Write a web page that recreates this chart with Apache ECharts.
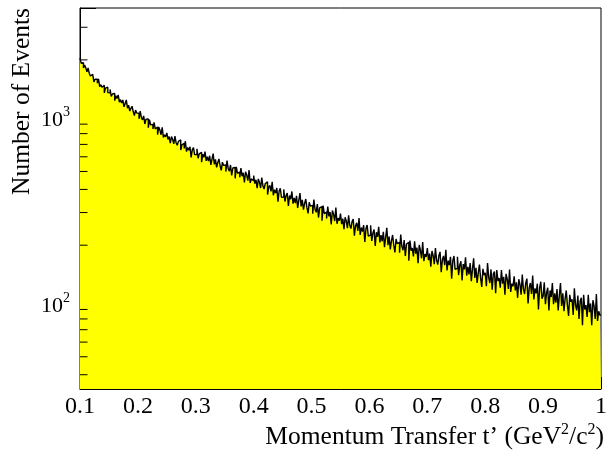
<!DOCTYPE html>
<html>
<head>
<meta charset="utf-8">
<script src="https://cdn.jsdelivr.net/npm/echarts@6/dist/echarts.min.js"></script>
<style>html,body{margin:0;padding:0;background:#fff}#c{width:610px;height:451px}</style>
</head>
<body>
<div id="c"></div>
<script>
// Histogram: lower edge of first bin, bin width, and counts per bin
const tMin = 0.1;
const binWidth = 0.002;
const counts = [
  // 0.10 - 0.15
  2049, 1919, 1932, 1806, 1876, 1811, 1724, 1809, 1694, 1638, 1671, 1672, 1522, 1573, 1574, 1498, 1578, 1433, 1470, 1424, 1459, 1327, 1408, 1425, 1331,
  // 0.15 - 0.20
  1328, 1385, 1269, 1309, 1319, 1205, 1281, 1239, 1295, 1184, 1220, 1169, 1217, 1116, 1164, 1216, 1098, 1140, 1059, 1096, 1124, 1049, 1002, 1072, 1035,
  // 0.20 - 0.25
  1028, 962, 1057, 979, 949, 997, 902, 958, 959, 861, 953, 892, 897, 848, 919, 848, 869, 791, 869, 836, 789, 865, 763, 789, 769,
  // 0.25 - 0.30
  807, 745, 771, 711, 772, 746, 705, 775, 715, 693, 727, 740, 652, 696, 709, 666, 728, 640, 673, 650, 680, 596, 656, 673, 616,
  // 0.30 - 0.35
  616, 662, 589, 622, 635, 561, 620, 596, 640, 570, 600, 569, 608, 543, 582, 624, 546, 581, 526, 559, 584, 536, 507, 561, 539,
  // 0.35 - 0.40
  542, 499, 572, 519, 502, 542, 476, 522, 526, 459, 530, 489, 496, 465, 521, 471, 492, 436, 498, 478, 446, 509, 434, 456, 445,
  // 0.40 - 0.45
  475, 430, 451, 406, 456, 437, 407, 463, 418, 402, 430, 440, 375, 410, 421, 390, 439, 372, 399, 382, 407, 343, 392, 406, 363,
  // 0.45 - 0.50
  364, 400, 344, 371, 382, 326, 371, 354, 390, 335, 360, 337, 369, 318, 350, 382, 324, 351, 311, 336, 355, 319, 297, 341, 325,
  // 0.50 - 0.55
  328, 296, 353, 313, 301, 333, 282, 318, 323, 271, 327, 296, 302, 279, 323, 286, 302, 259, 308, 294, 270, 319, 261, 280, 271,
  // 0.55 - 0.60
  296, 260, 278, 244, 283, 270, 247, 290, 256, 246, 268, 277, 225, 255, 264, 239, 280, 227, 249, 237, 257, 208, 246, 257, 224,
  // 0.60 - 0.65
  227, 256, 211, 233, 243, 198, 235, 222, 251, 207, 227, 210, 236, 195, 221, 248, 200, 223, 190, 211, 227, 200, 183, 216, 204,
  // 0.65 - 0.70
  207, 182, 228, 197, 188, 213, 175, 203, 207, 165, 212, 187, 193, 174, 210, 180, 194, 160, 201, 188, 170, 208, 164, 179, 173,
  // 0.70 - 0.75
  193, 166, 180, 153, 186, 176, 158, 193, 166, 157, 176, 184, 143, 167, 175, 156, 189, 146, 165, 156, 173, 132, 165, 175, 148,
  // 0.75 - 0.80
  150, 173, 138, 156, 164, 129, 158, 148, 172, 137, 153, 139, 160, 128, 149, 170, 133, 151, 125, 142, 157, 133, 119, 149, 138,
  // 0.80 - 0.85
  142, 120, 160, 134, 125, 148, 115, 140, 144, 110, 147, 128, 133, 118, 147, 124, 135, 108, 140, 131, 116, 148, 112, 124, 120,
  // 0.85 - 0.90
  136, 114, 126, 104, 131, 123, 108, 139, 116, 109, 125, 132, 97, 118, 125, 109, 137, 102, 117, 110, 124, 90, 118, 127, 103,
  // 0.90 - 0.95
  106, 126, 96, 111, 118, 89, 114, 105, 125, 96, 110, 98, 116, 89, 107, 125, 94, 110, 88, 103, 114, 95, 83, 108, 99,
  // 0.95 - 1.00
  102, 84, 117, 95, 89, 107, 80, 100, 104, 74, 108, 90, 95, 82, 108, 87, 97, 74, 101, 94, 80, 109, 78, 88, 84
];
const xRange = [0.1, 1.0];
const yRange = [33.5, 3811];
const yMinorTicks = [40, 50, 60, 70, 80, 90, 200, 300, 400, 500, 600, 700, 800, 900, 2000, 3000];

const FONT = 'Liberation Serif';

const stepData = counts.map((c, i) => [+(tMin + i * binWidth).toFixed(4), c]);
stepData.push([xRange[1], counts[counts.length - 1]]);

const chart = echarts.init(document.getElementById('c'), null, {renderer: 'canvas'});
chart.setOption({
  animation: false,
  backgroundColor: '#fff',
  grid: {left: 80, right: 6, top: 8, bottom: 62, show: true, borderColor: '#000', borderWidth: 1, backgroundColor: 'transparent'},
  xAxis: {
    type: 'value', min: xRange[0], max: xRange[1], interval: 0.1,
    axisLine: {show: true, onZero: false, lineStyle: {color: '#000', width: 1}},
    axisTick: {show: true, inside: true, length: 12, lineStyle: {color: '#000', width: 1}},
    minorTick: {show: true, splitNumber: 5, length: 6, lineStyle: {color: '#000', width: 1}},
    splitLine: {show: false},
    axisLabel: {color: '#000', fontFamily: FONT, fontSize: 24, margin: 6,
      formatter: v => String(+v.toFixed(1))}
  },
  yAxis: {
    type: 'log', logBase: 10, min: yRange[0], max: yRange[1],
    axisLine: {show: true, lineStyle: {color: '#000', width: 1}},
    axisTick: {show: true, inside: true, length: 16, lineStyle: {color: '#000', width: 1}},
    minorTick: {show: false},
    splitLine: {show: false},
    axisLabel: {
      color: '#000', fontFamily: FONT, margin: 10, padding: [6, 0, 0, 0],
      formatter: function (v) {
        const e = Math.round(Math.log10(v));
        if (Math.abs(Math.pow(10, e) - v) > 1e-6 * v) return '';
        return '{b|10}{s|' + e + '}';
      },
      rich: {
        b: {fontFamily: FONT, fontSize: 22, color: '#000', lineHeight: 26, verticalAlign: 'bottom'},
        s: {fontFamily: FONT, fontSize: 14, color: '#000', verticalAlign: 'top'}
      }
    }
  },
  graphic: [
    {type: 'text', x: 22, y: 8, rotation: Math.PI / 2,
      style: {text: 'Number of Events', fill: '#000', font: '25.5px "Liberation Serif"', align: 'right', verticalAlign: 'middle'}},
    {type: 'text', x: 604, y: 436,
      style: {text: '{b|Momentum Transfer t’ (GeV}{s|2}{b|/c}{s|2}{b|)}', align: 'right', verticalAlign: 'middle',
        rich: {
          b: {fontFamily: FONT, fontSize: 25.5, fill: '#000', lineHeight: 28, verticalAlign: 'bottom'},
          s: {fontFamily: FONT, fontSize: 16, fill: '#000', verticalAlign: 'top'}
        }}}
  ],
  series: [
    {
      type: 'line', step: 'end', data: stepData, symbol: 'none', clip: true,
      lineStyle: {color: '#000', width: 1.4},
      areaStyle: {color: '#ffff00', opacity: 1, origin: 'start'},
      z: 2
    },
    {
      type: 'custom', data: yMinorTicks.map(v => [xRange[0], v]), clip: false, silent: true, z: 5,
      renderItem: function (params, api) {
        const p = api.coord([api.value(0), api.value(1)]);
        return {type: 'line', shape: {x1: p[0], y1: p[1], x2: p[0] + 7.5, y2: p[1]}, style: {stroke: '#000', lineWidth: 1}};
      }
    }
  ]
});
</script>
</body>
</html>
